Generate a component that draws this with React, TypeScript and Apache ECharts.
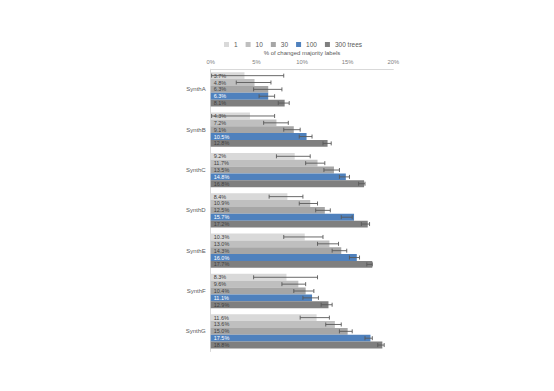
import React, { useEffect, useRef } from "react";
import * as echarts from "echarts";

const categories = ["SynthA", "SynthB", "SynthC", "SynthD", "SynthE", "SynthF", "SynthG"];
const seriesNames = ["1", "10", "30", "100", "300 trees"];
const seriesColors = ["#d9d9d9", "#bfbfbf", "#a6a6a6", "#4f81bd", "#7f7f7f"];
const labelColors = ["#404040", "#404040", "#404040", "#ffffff", "#404040"];
const xTicks = [0, 5, 10, 15, 20];

const trees1 = [3.7, 4.3, 9.2, 8.4, 10.3, 8.3, 11.6];
const trees10 = [4.8, 7.2, 11.7, 10.9, 13.0, 9.6, 13.6];
const trees30 = [6.3, 9.1, 13.5, 12.5, 14.3, 10.4, 15.0];
const trees100 = [6.3, 10.5, 14.8, 15.7, 16.0, 11.1, 17.5];
const trees300 = [8.1, 12.8, 16.8, 17.2, 17.7, 12.9, 18.8];

const low1 = [0.1, 0.1, 7.2, 6.4, 8.0, 4.7, 9.8];
const high1 = [8.0, 7.0, 10.9, 10.1, 12.3, 11.7, 13.0];
const low10 = [2.8, 5.8, 10.4, 9.7, 11.7, 7.8, 12.6];
const high10 = [6.6, 8.5, 12.5, 11.7, 14.0, 10.4, 14.3];
const low30 = [4.7, 8.0, 12.4, 11.5, 13.3, 9.1, 14.1];
const high30 = [7.8, 9.8, 14.1, 13.1, 14.9, 11.3, 15.5];
const low100 = [5.3, 9.7, 14.1, 14.3, 15.2, 10.1, 16.9];
const high100 = [7.0, 11.1, 15.2, 15.5, 16.3, 11.8, 17.7];
const low300 = [7.4, 12.3, 16.2, 16.5, 17.1, 12.1, 18.3];
const high300 = [8.6, 13.2, 16.9, 17.4, 17.7, 13.3, 19.0];

const values = [trees1, trees10, trees30, trees100, trees300];
const lows = [low1, low10, low30, low100, low300];
const highs = [high1, high10, high30, high100, high300];

const FONT = "Liberation Sans";
const GROUP_FRACTION = 0.85;

export default function App() {
  const ref = useRef<HTMLDivElement>(null);

  useEffect(() => {
    if (!ref.current) return;
    const chart = echarts.init(ref.current, undefined, { renderer: "svg" });

    const barSeries = values.map((vals, i) => ({
      name: seriesNames[i],
      type: "bar",
      data: vals,
      barGap: "0%",
      barCategoryGap: "15%",
      itemStyle: { color: seriesColors[i] },
      label: {
        show: true,
        position: "insideLeft",
        distance: 3,
        fontFamily: FONT,
        fontSize: 5.5,
        color: labelColors[i],
        formatter: (p: any) => p.value.toFixed(1) + "%",
      },
      z: 2,
    }));

    const errSeries = values.map((_, i) => ({
      name: "err" + i,
      type: "custom",
      z: 3,
      encode: { x: [1, 2], y: 0 },
      data: categories.map((_, c) => [c, lows[i][c], highs[i][c]]),
      renderItem: (params: any, api: any) => {
        const cat = api.value(0);
        const lo = api.value(1);
        const hi = api.value(2);
        const p1 = api.coord([lo, cat]);
        const p2 = api.coord([hi, cat]);
        const band = api.size([0, 1])[1];
        const bw = (band * GROUP_FRACTION) / 5;
        const y = p1[1] - (band * GROUP_FRACTION) / 2 + bw * (i + 0.5);
        const cap = 2;
        const style = { stroke: "#595959", lineWidth: 0.9 };
        return {
          type: "group",
          children: [
            { type: "line", shape: { x1: p1[0], y1: y, x2: p2[0], y2: y }, style },
            { type: "line", shape: { x1: p1[0], y1: y - cap, x2: p1[0], y2: y + cap }, style },
            { type: "line", shape: { x1: p2[0], y1: y - cap, x2: p2[0], y2: y + cap }, style },
          ],
        };
      },
    }));

    chart.setOption({
      animation: false,
      backgroundColor: "#ffffff",
      textStyle: { fontFamily: FONT },
      legend: {
        data: seriesNames,
        left: 224,
        top: 41,
        padding: 0,
        itemWidth: 5,
        itemHeight: 5,
        itemGap: 8,
        icon: "rect",
        textStyle: { fontFamily: FONT, fontSize: 6.5, color: "#595959" },
      },
      grid: { left: 210.7, right: 160.7, top: 69.2, height: 282.3, containLabel: false },
      xAxis: {
        type: "value",
        position: "top",
        min: xTicks[0],
        max: xTicks[xTicks.length - 1],
        interval: 5,
        name: "% of changed majority labels",
        nameLocation: "middle",
        nameGap: 13,
        nameMoveOverlap: false,
        nameTextStyle: { fontFamily: FONT, fontSize: 6, color: "#595959" },
        axisLine: { show: true, lineStyle: { color: "#d9d9d9", width: 1 } },
        axisTick: { show: false },
        splitLine: { show: false },
        axisLabel: {
          fontFamily: FONT,
          fontSize: 5.8,
          color: "#7f7f7f",
          margin: 4,
          formatter: (v: number) => v + "%",
        },
      },
      yAxis: {
        type: "category",
        data: categories,
        inverse: true,
        axisLine: { show: true, lineStyle: { color: "#d9d9d9", width: 1 } },
        axisTick: { show: false },
        axisLabel: { fontFamily: FONT, fontSize: 6, color: "#595959", margin: 5 },
      },
      series: [...barSeries, ...errSeries],
    });

    return () => chart.dispose();
  }, []);

  return (
    <div
      ref={ref}
      style={{ position: "fixed", left: 0, top: 0, width: 554, height: 391 }}
    />
  );
}
